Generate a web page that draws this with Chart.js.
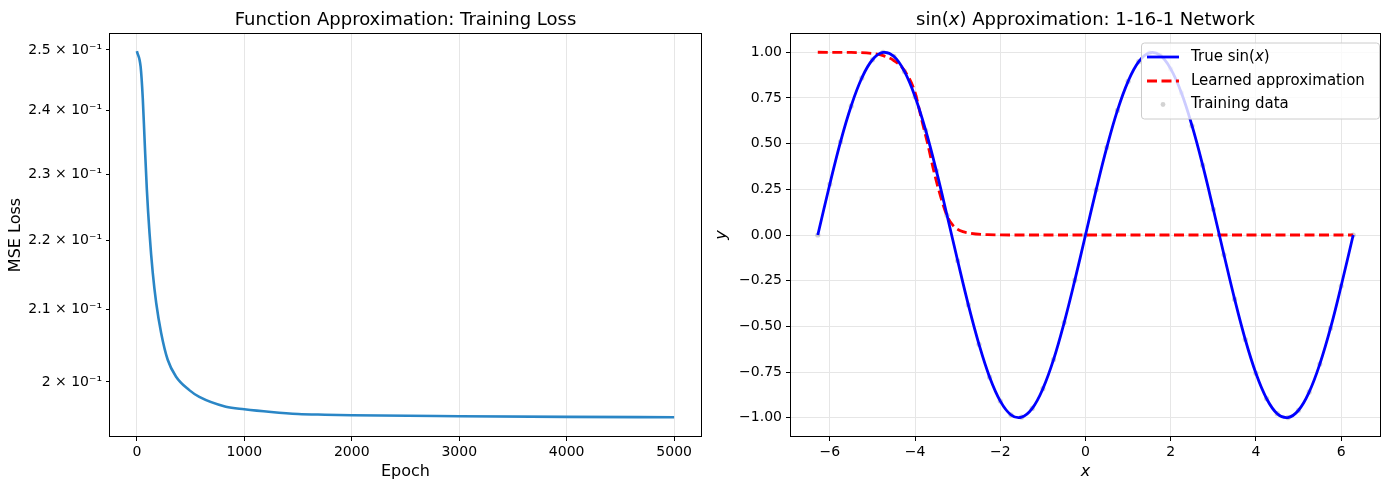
<!DOCTYPE html>
<html>
<head>
<meta charset="utf-8">
<script src="https://cdn.jsdelivr.net/npm/chart.js@4.4.1/dist/chart.umd.min.js"></script>
<style>
html, body { margin: 0; padding: 0; background: #fff; }
#wrap { position: relative; width: 1390px; height: 490px; }
canvas { position: absolute; top: 0; }
#lossChart { left: 0; }
#sinChart { left: 705px; }
</style>
</head>
<body>
<div id="wrap">
    <canvas id="lossChart" width="705" height="490"></canvas>
    <canvas id="sinChart" width="685" height="490"></canvas>
</div>
<script>
// ---------------- Data ----------------
const epochs = [0, 35, 55, 72, 93, 118, 148, 180, 226, 287, 365, 488, 581, 828, 1000, 1250, 1500, 1750, 2000, 3000, 4000, 5000];
const lossValues = [0.2498, 0.2472, 0.2420, 0.2353, 0.2276, 0.2210, 0.2152, 0.2109, 0.2067, 0.2030, 0.2007, 0.1989, 0.1980, 0.1967, 0.19636, 0.19600, 0.19574, 0.19564, 0.19557, 0.19544, 0.19535, 0.19531];
const lossTicks = [0.20, 0.21, 0.22, 0.23, 0.24, 0.25];
const lossTickLabels = ['2 × 10⁻¹', '2.1 × 10⁻¹', '2.2 × 10⁻¹', '2.3 × 10⁻¹', '2.4 × 10⁻¹', '2.5 × 10⁻¹'];
const epochTicks = [0, 1000, 2000, 3000, 4000, 5000];

const sinX = [-6.2832, -6.0, -5.75, -5.5, -5.25, -5.0, -4.75, -4.5, -4.25, -4.0, -3.75, -3.5, -3.25, -3.0, -2.75, -2.5, -2.25, -2.0, -1.75, -1.5, -1.25, -1.0, -0.75, -0.5, -0.25,
    0, 0.25, 0.5, 0.75, 1.0, 1.25, 1.5, 1.75, 2.0, 2.25, 2.5, 2.75, 3.0, 3.25, 3.5, 3.75, 4.0, 4.25, 4.5, 4.75, 5.0, 5.25, 5.5, 5.75, 6.0, 6.2832];
const sinTrue = [0, 0.279, 0.510, 0.706, 0.859, 0.959, 0.999, 0.978, 0.895, 0.757, 0.572, 0.351, 0.108, -0.141, -0.382, -0.598, -0.778, -0.909, -0.984, -0.997, -0.949, -0.841, -0.682, -0.479, -0.247,
    0, 0.247, 0.479, 0.682, 0.841, 0.949, 0.997, 0.984, 0.909, 0.778, 0.598, 0.382, 0.141, -0.108, -0.351, -0.572, -0.757, -0.895, -0.978, -0.999, -0.959, -0.859, -0.706, -0.510, -0.279, 0];
const learnedX = [-6.2832, -5.5, -5.0, -4.75, -4.5, -4.25, -4.0, -3.85, -3.7, -3.55, -3.4, -3.25, -3.1, -2.95, -2.7, -2.3, -1.5, 6.2832];
const learnedY = [1.000, 0.999, 0.993, 0.982, 0.955, 0.900, 0.780, 0.635, 0.495, 0.340, 0.210, 0.105, 0.050, 0.025, 0.010, 0.002, 0.000, 0.000];
const trainX = sinX;
const trainY = sinTrue;
const xTicks = [-6, -4, -2, 0, 2, 4, 6];
const yTicks = [-1.0, -0.75, -0.5, -0.25, 0, 0.25, 0.5, 0.75, 1.0];

// ---------------- Helpers ----------------
const FONT = "'DejaVu Sans', sans-serif";
const font = (size, italic) => (italic ? 'italic ' : '') + size + 'px ' + FONT;
const minus = s => String(s).replace('-', '\u2212');
const toPoints = (xs, ys) => xs.map((x, i) => ({ x: x, y: ys[i] }));

function drawRich(ctx, parts, x, y, size) {
    let total = 0;
    parts.forEach(p => { ctx.font = font(size, p.i); total += ctx.measureText(p.t).width; });
    let cx = x - total / 2;
    ctx.textAlign = 'left';
    ctx.textBaseline = 'middle';
    parts.forEach(p => {
        ctx.font = font(size, p.i);
        ctx.fillText(p.t, cx, y);
        cx += ctx.measureText(p.t).width;
    });
}

// frame, titles, axis labels and (optionally) legend
function decorPlugin(cfg) {
    return {
        id: 'decor',
        afterDraw(chart) {
            const ctx = chart.ctx;
            const a = chart.chartArea;
            ctx.save();
            ctx.strokeStyle = '#000';
            ctx.lineWidth = 1;
            ctx.strokeRect(Math.round(a.left) - 0.5, Math.round(a.top) - 0.5, Math.round(a.right - a.left) + 1, Math.round(a.bottom - a.top) + 1);
            ctx.fillStyle = '#000';
            const cx = (a.left + a.right) / 2;
            drawRich(ctx, cfg.title, cx, 20, 18);
            drawRich(ctx, cfg.xLabel, cx, 472, 16);
            ctx.save();
            ctx.translate(cfg.yLabelX, (a.top + a.bottom) / 2);
            ctx.rotate(-Math.PI / 2);
            drawRich(ctx, cfg.yLabel, 0, 0, 16);
            ctx.restore();

            if (cfg.legend) {
                const L = 436, T = 42.5, W = 238, H = 76;
                ctx.beginPath();
                ctx.roundRect(L + 0.5, T + 0.5, W, H, 3);
                ctx.fillStyle = 'rgba(255,255,255,0.8)';
                ctx.fill();
                ctx.strokeStyle = '#cccccc';
                ctx.stroke();
                const rows = [57, 81, 104.5];
                ctx.lineWidth = 2.8;
                ctx.strokeStyle = '#0000ff';
                ctx.beginPath(); ctx.moveTo(L + 6, rows[0]); ctx.lineTo(L + 38, rows[0]); ctx.stroke();
                ctx.strokeStyle = '#ff0000';
                ctx.setLineDash([10, 4.5]);
                ctx.beginPath(); ctx.moveTo(L + 6, rows[1]); ctx.lineTo(L + 38, rows[1]); ctx.stroke();
                ctx.setLineDash([]);
                ctx.fillStyle = 'rgba(128,128,128,0.35)';
                ctx.beginPath(); ctx.arc(L + 22, rows[2], 2.4, 0, Math.PI * 2); ctx.fill();
                ctx.fillStyle = '#000';
                const items = [
                    [{ t: 'True sin(' }, { t: 'x', i: true }, { t: ')' }],
                    [{ t: 'Learned approximation' }],
                    [{ t: 'Training data' }]
                ];
                items.forEach((parts, k) => {
                    let tx = L + 50;
                    ctx.textAlign = 'left';
                    ctx.textBaseline = 'middle';
                    parts.forEach(p => {
                        ctx.font = font(15, p.i);
                        ctx.fillText(p.t, tx, rows[k]);
                        tx += ctx.measureText(p.t).width;
                    });
                });
            }
            ctx.restore();
        }
    };
}

const tickFont = { family: FONT, size: 14 };
const gridColor = '#e6e6e6';

// ---------------- Loss chart ----------------
new Chart(document.getElementById('lossChart'), {
    type: 'line',
    data: {
        datasets: [{
            data: toPoints(epochs, lossValues),
            borderColor: '#2a86c6',
            borderWidth: 2.6,
            pointRadius: 0,
            cubicInterpolationMode: 'monotone',
            fill: false
        }]
    },
    options: {
        responsive: false,
        animation: false,
        events: [],
        layout: { padding: { top: 34, right: 4, left: 0, bottom: 0 } },
        plugins: { legend: { display: false }, tooltip: { enabled: false } },
        scales: {
            x: {
                type: 'linear',
                min: -250,
                max: 5250,
                afterBuildTicks: s => { s.ticks = epochTicks.map(v => ({ value: v })); },
                afterFit: s => { s.height = 54; },
                ticks: { color: '#000', font: tickFont, padding: 3, maxRotation: 0, callback: v => String(v) },
                grid: { color: gridColor, lineWidth: 1, tickColor: '#000', tickLength: 5 },
                border: { display: false }
            },
            y: {
                type: 'logarithmic',
                min: 0.19286,
                max: 0.2527,
                afterBuildTicks: s => { s.ticks = lossTicks.map(v => ({ value: v })); },
                afterFit: s => { s.width = 110; },
                ticks: {
                    color: '#000', font: tickFont, padding: 4,
                    callback: v => {
                        const k = lossTicks.findIndex(t => Math.abs(t - v) < 1e-6);
                        return k >= 0 ? lossTickLabels[k] : '';
                    }
                },
                grid: { drawOnChartArea: false, tickColor: '#000', tickLength: 4 },
                border: { display: false }
            }
        }
    },
    plugins: [decorPlugin({
        title: [{ t: 'Function Approximation: Training Loss' }],
        xLabel: [{ t: 'Epoch' }],
        yLabel: [{ t: 'MSE Loss' }],
        yLabelX: 16,
        legend: false
    })]
});

// ---------------- sin(x) chart ----------------
new Chart(document.getElementById('sinChart'), {
    type: 'line',
    data: {
        datasets: [
            {
                label: 'True sin(x)',
                data: toPoints(sinX, sinTrue),
                borderColor: '#0000ff',
                borderWidth: 2.8,
                pointRadius: 0,
                tension: 0.4,
                fill: false
            },
            {
                label: 'Learned approximation',
                data: toPoints(learnedX, learnedY),
                borderColor: '#ff0000',
                borderWidth: 2.8,
                borderDash: [10, 4.5],
                pointRadius: 0,
                cubicInterpolationMode: 'monotone',
                fill: false
            },
            {
                label: 'Training data',
                data: toPoints(trainX, trainY),
                showLine: false,
                pointRadius: 2.6,
                pointBorderWidth: 0,
                pointBackgroundColor: 'rgba(128,128,128,0.35)',
                borderColor: 'rgba(128,128,128,0.35)'
            }
        ]
    },
    options: {
        responsive: false,
        animation: false,
        events: [],
        layout: { padding: { top: 34, right: 10, left: 0, bottom: 0 } },
        plugins: { legend: { display: false }, tooltip: { enabled: false } },
        scales: {
            x: {
                type: 'linear',
                min: -6.912,
                max: 6.912,
                afterBuildTicks: s => { s.ticks = xTicks.map(v => ({ value: v })); },
                afterFit: s => { s.height = 54; },
                ticks: { color: '#000', font: tickFont, padding: 3, maxRotation: 0, callback: v => minus(v) },
                grid: { color: gridColor, lineWidth: 1, tickColor: '#000', tickLength: 5 },
                border: { display: false }
            },
            y: {
                type: 'linear',
                min: -1.1,
                max: 1.1,
                afterBuildTicks: s => { s.ticks = yTicks.map(v => ({ value: v })); },
                afterFit: s => { s.width = 86; },
                ticks: { color: '#000', font: tickFont, padding: 4, callback: v => minus(v.toFixed(2)) },
                grid: { color: gridColor, lineWidth: 1, tickColor: '#000', tickLength: 5 },
                border: { display: false }
            }
        }
    },
    plugins: [decorPlugin({
        title: [{ t: 'sin(' }, { t: 'x', i: true }, { t: ') Approximation: 1-16-1 Network' }],
        xLabel: [{ t: 'x', i: true }],
        yLabel: [{ t: 'y', i: true }],
        yLabelX: 17,
        legend: true
    })]
});
</script>
</body>
</html>
